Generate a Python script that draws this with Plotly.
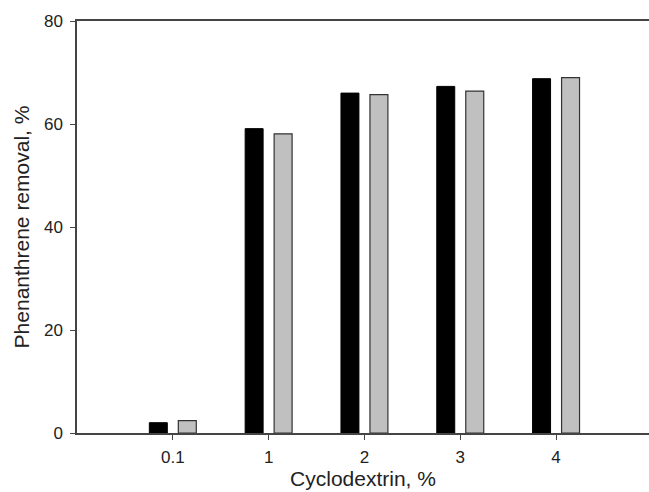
import plotly.graph_objects as go

categories = ["0.1", "1", "2", "3", "4"]
series_black = [2.0, 59.1, 66.0, 67.3, 68.8]
series_gray = [2.4, 58.1, 65.7, 66.4, 69.0]
y_ticks = [0, 20, 40, 60, 80]

fig = go.Figure()
fig.add_trace(go.Bar(x=categories, y=series_black, marker=dict(color="black", line=dict(color="black", width=1)), name="A"))
fig.add_trace(go.Bar(x=categories, y=series_gray, marker=dict(color="#c0c0c0", line=dict(color="#333333", width=1.2)), name="B"))

fig.update_layout(
    width=649, height=492,
    margin=dict(l=77, r=0, t=21, b=59),
    plot_bgcolor="white", paper_bgcolor="white",
    barmode="group", bargap=0.395, bargroupgap=0.38,
    showlegend=False,
    font=dict(family="Liberation Sans, Arial", size=17, color="#222222"),
)
fig.update_xaxes(
    type="category", range=[-1, 4.97],
    showline=True, linecolor="#444444", linewidth=1.5, mirror=True,
    ticks="outside", ticklen=5, tickcolor="#444444", tickwidth=1.2,
    ticklabelstandoff=3, tickfont=dict(size=17),
    showgrid=False, zeroline=False,
    title=dict(text="Cyclodextrin, %", font=dict(size=21), standoff=5),
)
fig.update_yaxes(
    range=[0, 80], tickvals=y_ticks,
    showline=True, linecolor="#444444", linewidth=1.5,
    ticks="outside", ticklen=5, tickcolor="#444444", tickwidth=1.2,
    ticklabelstandoff=4, tickfont=dict(size=17),
    showgrid=False, zeroline=False,
    title=dict(text="Phenanthrene removal, %", font=dict(size=21), standoff=9),
)
fig.write_html("out.html")
